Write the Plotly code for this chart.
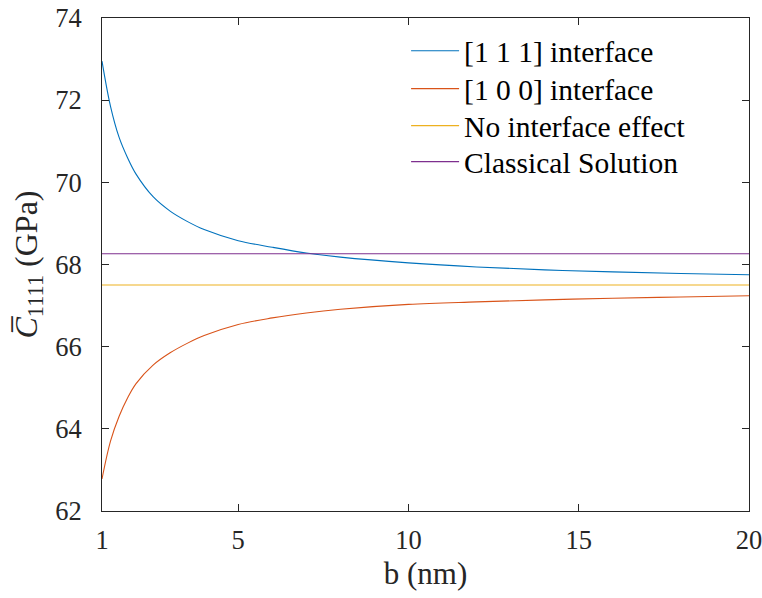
import plotly.graph_objects as go

b_nm = [1, 1.25, 1.5, 1.75, 2, 2.5, 3, 3.5, 4, 5, 6, 7, 8, 10, 12, 14, 16, 18, 20]
c_111 = [72.95, 71.85, 71.1, 70.6, 70.2, 69.65, 69.3, 69.05, 68.85, 68.58, 68.42,
         68.28, 68.18, 68.04, 67.94, 67.87, 67.82, 67.78, 67.75]
c_100 = [62.78, 63.7, 64.3, 64.75, 65.1, 65.55, 65.85, 66.08, 66.27, 66.54, 66.7,
         66.82, 66.91, 67.03, 67.09, 67.14, 67.18, 67.21, 67.24]
no_interface = 67.5
classical = 68.26

x_ticks = [1, 5, 10, 15, 20]
y_ticks = [62, 64, 66, 68, 70, 72, 74]

FONT = "Liberation Serif, Times New Roman, serif"

fig = go.Figure()
fig.add_trace(go.Scatter(x=b_nm, y=c_111, mode="lines", name="[1 1 1] interface",
                         legend="legend", showlegend=True,
                         line=dict(color="#0072BD", width=1.1, shape="spline")))
fig.add_trace(go.Scatter(x=b_nm, y=c_100, mode="lines", name="[1 0 0] interface",
                         legend="legend2", showlegend=True,
                         line=dict(color="#D95319", width=1.1, shape="spline")))
fig.add_trace(go.Scatter(x=[b_nm[0], b_nm[-1]], y=[no_interface] * 2, mode="lines",
                         name="No interface effect", legend="legend3", showlegend=True,
                         line=dict(color="#EDB120", width=1.1)))
fig.add_trace(go.Scatter(x=[b_nm[0], b_nm[-1]], y=[classical] * 2, mode="lines",
                         name="Classical Solution", legend="legend4", showlegend=True,
                         line=dict(color="#7E2F8E", width=1.1)))

axis_common = dict(showline=True, linecolor="#262626", linewidth=1, mirror="ticks",
                   ticks="inside", ticklen=7, tickcolor="#262626", showgrid=False,
                   zeroline=False, automargin=False, ticklabeloverflow="allow",
                   tickfont=dict(family=FONT, size=26.5, color="#262626"))


def legend_at(ypos):
    return dict(x=0.47, y=ypos, xanchor="left", yanchor="middle", itemwidth=48,
                bgcolor="rgba(255,255,255,0)", borderwidth=0,
                font=dict(family=FONT, size=29.5, color="#000000"))


fig.update_layout(
    width=762, height=598,
    margin=dict(l=102, r=13, t=18, b=87),
    paper_bgcolor="white", plot_bgcolor="white",
    font=dict(family=FONT, color="#262626"),
    showlegend=True,
    xaxis=dict(range=[1, 20], tickvals=x_ticks, ticklabelstandoff=5,
               title=dict(text="b (nm)", font=dict(family=FONT, size=31), standoff=8),
               **axis_common),
    yaxis=dict(range=[62, 74], tickvals=y_ticks, ticklabelstandoff=14,
               title=dict(text="\u00a0\u00a0\u00a0<i>C\u0305</i><sub>1111</sub> (GPa)",
                          font=dict(family=FONT, size=32), standoff=8),
               **axis_common),
    legend=legend_at(0.933),
    legend2=legend_at(0.856),
    legend3=legend_at(0.781),
    legend4=legend_at(0.708),
)

fig.write_html("out.html", config={"displayModeBar": False},
               post_script="document.body.style.margin='0';")
